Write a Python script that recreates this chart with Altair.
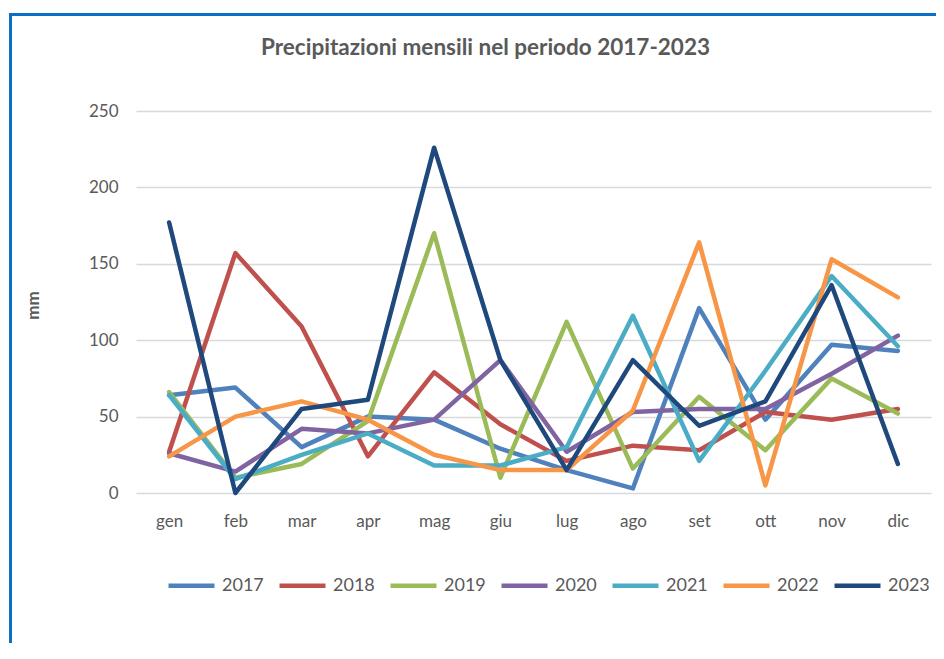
import altair as alt
import pandas as pd

months = ["gen", "feb", "mar", "apr", "mag", "giu", "lug", "ago", "set", "ott", "nov", "dic"]
years = ["2017", "2018", "2019", "2020", "2021", "2022", "2023"]
y2017 = [64, 69, 30, 50, 48, 29, 15, 3, 121, 48, 97, 93]
y2018 = [27, 157, 109, 24, 79, 45, 21, 31, 28, 53, 48, 55]
y2019 = [66, 10, 19, 47, 170, 10, 112, 16, 63, 28, 75, 52]
y2020 = [26, 14, 42, 39, 48, 87, 27, 53, 55, 55, 78, 103]
y2021 = [64, 9, 25, 39, 18, 18, 30, 116, 21, 80, 142, 96]
y2022 = [24, 50, 60, 48, 25, 15, 15, 54, 164, 5, 153, 128]
y2023 = [177, 0, 55, 61, 226, 87, 15, 87, 44, 60, 136, 19]
colors = ["#4f81bd", "#c0504d", "#9bbb59", "#8064a2", "#4bacc6", "#f79646", "#1f497d"]

series = [y2017, y2018, y2019, y2020, y2021, y2022, y2023]
rows = []
for yr, vals in zip(years, series):
    for m, v in zip(months, vals):
        rows.append({"mese": m, "anno": yr, "mm": v})
df = pd.DataFrame(rows)

W, H = 795, 382
FONT = "Lato"
GREY = "#595959"

lines = alt.Chart(df).mark_line(strokeWidth=4.5, strokeCap="round", strokeJoin="round").encode(
    x=alt.X("mese:N", sort=months, scale=alt.Scale(type="point", padding=0.5),
            axis=alt.Axis(title=None, labelAngle=0, domain=False, ticks=False, grid=False,
                          labelFont=FONT, labelFontSize=17, labelColor=GREY,
                          labelPadding=20, labelBaseline="top")),
    y=alt.Y("mm:Q", scale=alt.Scale(domain=[0, 250], nice=False),
            axis=alt.Axis(title="mm", values=[0, 50, 100, 150, 200, 250], domain=False, ticks=False,
                          grid=True, gridColor="#d9d9d9", gridWidth=1.5,
                          labelFont=FONT, labelFontSize=17, labelColor=GREY, labelPadding=18,
                          titleFont=FONT, titleFontSize=17, titleFontWeight="bold", titleColor=GREY,
                          titleX=-103, titleY=194, titleAngle=-90, titleAlign="center",
                          titleBaseline="middle")),
    color=alt.Color("anno:N", sort=years, scale=alt.Scale(domain=years, range=colors),
                    legend=alt.Legend(title=None, orient="none", legendX=30, legendY=449,
                                      direction="horizontal", columns=7, symbolType="stroke",
                                      symbolSize=2116, symbolStrokeWidth=4.5,
                                      labelFont=FONT, labelFontSize=18, labelColor=GREY,
                                      labelOffset=5, columnPadding=6)),
)

frame_left = alt.Chart(df).mark_rule(color="#0b6fc5", strokeWidth=3).encode(
    x=alt.value(-125.5), y=alt.value(-98), y2=alt.value(H + 200))
frame_top = alt.Chart(df).mark_rule(color="#0b6fc5", strokeWidth=3).encode(
    x=alt.value(-127), x2=alt.value(W + 50), y=alt.value(-96.5))

chart = alt.layer(frame_left, frame_top, lines).properties(
    width=W, height=H,
    autosize=alt.AutoSizeParams(type="none"),
    padding={"left": 128, "top": 103, "right": 5, "bottom": 150},
    title=alt.Title("Precipitazioni mensili nel periodo 2017-2023", font=FONT, fontSize=22.5,
                    fontWeight="bold", color=GREY, anchor="middle", frame="group",
                    dx=-48, offset=-66, baseline="alphabetic"),
).configure_view(stroke=None)

chart.save("out.html", embed_options={"renderer": "svg", "actions": False})
